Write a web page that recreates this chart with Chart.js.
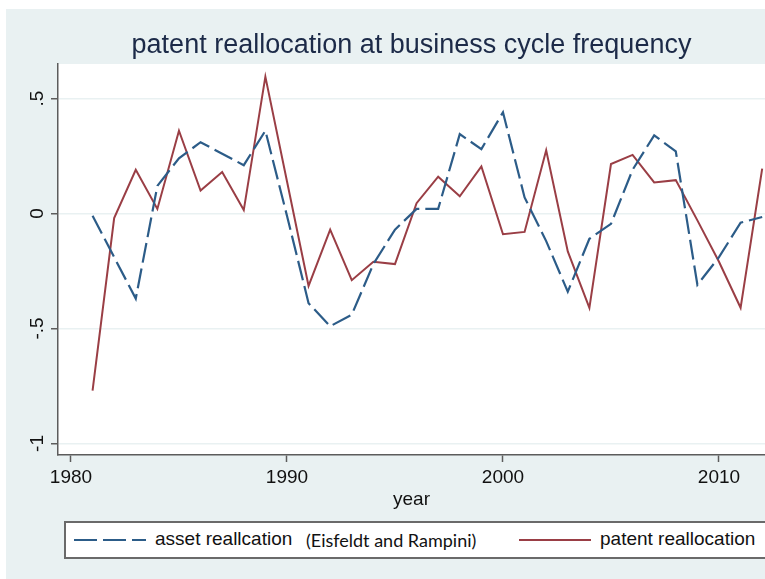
<!DOCTYPE html>
<html>
<head>
<meta charset="utf-8">
<script src="https://cdn.jsdelivr.net/npm/chart.js@4"></script>
<style>
  html, body { margin: 0; padding: 0; background: #ffffff; overflow: hidden; }
  #wrap { position: absolute; left: 6px; top: 9px; width: 759px; height: 570px; background: #e9f1f2; }
  #legend {
    position: absolute; left: 64px; top: 521px; width: 720px; height: 34px;
    background: #fff; border: 2px solid #6a6a6a;
    font-family: "Liberation Sans", Arial, sans-serif; font-size: 19px; color: #111;
  }
  #legend span, #legend svg { position: absolute; }
</style>
</head>
<body>
<div id="wrap"><canvas id="grafico" width="759" height="570"></canvas></div>
<div id="legend"></div>
<script>
// datos (reasignación de activos vs. de patentes, 1981-2012)
const years = [1981, 1982, 1983, 1984, 1985, 1986, 1987, 1988, 1989, 1990,
  1991, 1992, 1993, 1994, 1995, 1996, 1997, 1998, 1999, 2000,
  2001, 2002, 2003, 2004, 2005, 2006, 2007, 2008, 2009, 2010, 2011, 2012];

const assetRealloc = [-0.01, -0.19, -0.37, 0.12, 0.24, 0.31, 0.26, 0.21, 0.36, -0.01,
  -0.39, -0.49, -0.44, -0.22, -0.07, 0.02, 0.02, 0.345, 0.28, 0.44,
  0.07, -0.12, -0.34, -0.11, -0.045, 0.19, 0.34, 0.27, -0.31, -0.19, -0.04, -0.015];

const patentRealloc = [-0.77, -0.02, 0.19, 0.02, 0.36, 0.10, 0.18, 0.015, 0.595, 0.14,
  -0.315, -0.07, -0.29, -0.21, -0.22, 0.045, 0.16, 0.075, 0.205, -0.09,
  -0.08, 0.275, -0.165, -0.41, 0.215, 0.255, 0.135, 0.145, -0.03, -0.21, -0.41, 0.195];

const xTicks = [1980, 1990, 2000, 2010];
const yTicks = [-1, -0.5, 0, 0.5];
const yTickLabels = ["-1", "-.5", "0", ".5"];

const azul = "#2c5c88";
const granate = "#9a3e45";
const ejeColor = "#5c5c5c";
const fuente = "'Liberation Sans', Arial, sans-serif";

// fondo blanco solo en el área del gráfico
const fondoArea = {
  id: "fondoArea",
  beforeDraw(chart) {
    const a = chart.chartArea;
    chart.ctx.save();
    chart.ctx.fillStyle = "#ffffff";
    chart.ctx.fillRect(a.left, a.top, a.right - a.left, a.bottom - a.top);
    chart.ctx.restore();
  }
};

const ctx = document.getElementById("grafico");

const chart = new Chart(ctx, {
  type: "line",
  data: {
    datasets: [{
      label: "asset reallcation",
      data: years.map((y, i) => ({ x: y, y: assetRealloc[i] })),
      borderColor: azul,
      borderWidth: 2.2,
      borderDash: [20, 6],
      pointRadius: 0,
      tension: 0
    }, {
      label: "patent reallocation",
      data: years.map((y, i) => ({ x: y, y: patentRealloc[i] })),
      borderColor: granate,
      borderWidth: 2,
      pointRadius: 0,
      tension: 0
    }]
  },
  options: {
    responsive: false,
    animation: false,
    layout: { padding: { left: 0, right: 0, top: 0, bottom: 64 } },
    plugins: {
      legend: { display: false },
      tooltip: { enabled: false },
      title: {
        display: true,
        fullSize: false,
        text: "patent reallocation at business cycle frequency",
        color: "#1c2a48",
        font: { family: fuente, size: 27, weight: "normal", lineHeight: 1.2 },
        padding: { top: 20, bottom: 2.6 }
      }
    },
    scales: {
      x: {
        type: "linear",
        min: 1979.4,
        max: 2012.13,
        afterBuildTicks: (s) => { s.ticks = xTicks.map(v => ({ value: v })); },
        afterFit: (s) => { s.height = 60; },
        ticks: {
          color: "#111",
          font: { family: fuente, size: 19 },
          padding: 4,
          maxRotation: 0,
          autoSkip: false,
          callback: (v) => String(v)
        },
        grid: { drawOnChartArea: false, tickLength: 7, tickColor: ejeColor, tickWidth: 1.5 },
        border: { display: true, color: ejeColor, width: 1.5 },
        title: {
          display: true,
          text: "year",
          color: "#111",
          font: { family: fuente, size: 19 },
          padding: { top: 0, bottom: 4 }
        }
      },
      y: {
        min: -1.05,
        max: 0.65,
        afterBuildTicks: (s) => { s.ticks = yTicks.map(v => ({ value: v })); },
        afterFit: (s) => { s.width = 52; },
        ticks: {
          color: "#111",
          font: { family: fuente, size: 19 },
          minRotation: 90,
          maxRotation: 90,
          crossAlign: "center",
          padding: 2,
          autoSkip: false,
          callback: (v) => yTickLabels[yTicks.indexOf(v)]
        },
        grid: { color: "#e9f1f2", lineWidth: 1.5, tickLength: 7, tickColor: ejeColor, tickWidth: 1.5 },
        border: { display: true, color: ejeColor, width: 1.5 }
      }
    }
  },
  plugins: [fondoArea]
});

// leyenda en HTML (mezcla dos tipografías como el original)
const leg = document.getElementById("legend");
const ds = chart.data.datasets;
function linea(left, ds) {
  const dash = ds.borderDash ? "23,6" : "none";
  return `<svg style="left:${left}px;top:14px" width="72" height="6">
    <line x1="0" y1="3" x2="72" y2="3" stroke="${ds.borderColor}" stroke-width="2" stroke-dasharray="${dash}"/></svg>`;
}
leg.innerHTML =
  linea(8, ds[0]) +
  `<span style="left:89px;top:5px">${ds[0].label}</span>` +
  `<span style="left:240px;top:6px;font-family:Lato,'Open Sans',sans-serif;font-size:18px">(Eisfeldt and Rampini)</span>` +
  linea(453, ds[1]) +
  `<span style="left:534px;top:5px">${ds[1].label}</span>`;
</script>
</body>
</html>
